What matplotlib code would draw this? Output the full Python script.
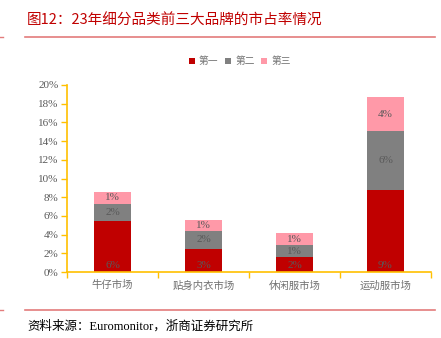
import matplotlib
matplotlib.use("Agg")
import matplotlib.pyplot as plt
import numpy as np

plt.rcParams['font.family'] = ['Liberation Serif', 'Noto Sans CJK SC']

# data
categories = ["牛仔市场", "贴身内衣市场", "休闲服市场", "运动服市场"]
first = [5.5, 2.5, 1.6, 8.8]
second = [1.8, 1.85, 1.25, 6.25]
third = [1.3, 1.25, 1.35, 3.65]
first_labels = ["6%", "3%", "2%", "9%"]
second_labels = ["2%", "2%", "1%", "6%"]
third_labels = ["1%", "1%", "1%", "4%"]
series_names = ["第一", "第二", "第三"]
yticks = [0, 2, 4, 6, 8, 10, 12, 14, 16, 18, 20]

colors = ["#C00000", "#808080", "#FF99A8"]
axis_col = "#FFC000"
text_col = "#595959"

W, H = 441, 338
fig = plt.figure(figsize=(W / 100, H / 100), dpi=100)
ax = fig.add_axes([67 / W, 1 - 272 / H, 364 / W, 187 / H])

x = np.arange(len(categories))
b1 = np.array(first)
b2 = np.array(second)
b3 = np.array(third)
ax.bar(x, b1, width=0.4, color=colors[0], label=series_names[0], zorder=2)
ax.bar(x, b2, width=0.4, bottom=b1, color=colors[1], label=series_names[1], zorder=2)
ax.bar(x, b3, width=0.4, bottom=b1 + b2, color=colors[2], label=series_names[2], zorder=2)

# segment labels
lab_font = dict(fontsize=8, color=text_col, ha="center", va="center", zorder=3)
for i in range(len(categories)):
    ax.text(x[i], 0.7, first_labels[i], **lab_font)
    ax.text(x[i], b1[i] + b2[i] / 2, second_labels[i], **lab_font)
    ax.text(x[i], b1[i] + b2[i] + b3[i] / 2, third_labels[i], **lab_font)

ax.set_xlim(-0.5, len(categories) - 0.5)
ax.set_ylim(0, 20)
ax.set_yticks(yticks)
ax.set_yticklabels([f"{v}%" for v in yticks], fontsize=8, color=text_col)
ax.set_xticks(x)
ax.set_xticklabels(categories, fontsize=7.5, color="#707070",
                   family=['Noto Sans CJK SC'])
ax.set_xticks(np.arange(-0.5, len(categories)), minor=True)
ax.tick_params(axis='x', which='major', length=0, pad=6)
ax.tick_params(axis='x', which='minor', length=4, color=axis_col, width=1)
ax.tick_params(axis='y', length=4, color=axis_col, width=1, pad=2)
for s in ['top', 'right']:
    ax.spines[s].set_visible(False)
for s in ['left', 'bottom']:
    ax.spines[s].set_color(axis_col)
    ax.spines[s].set_linewidth(1.2)

leg = ax.legend(loc='lower center', ncol=3, frameon=False,
                handlelength=0.6, handleheight=0.6, handletextpad=0.4,
                columnspacing=0.7, borderaxespad=0,
                prop={'family': 'Noto Sans CJK SC', 'size': 7})
leg.set_bbox_to_anchor((240 / W, 1 - 70 / H), transform=fig.transFigure)
for t in leg.get_texts():
    t.set_color("#707070")

# title, rules and source
fig.text(27 / W, 1 - 21 / H, "图12：23年细分品类前三大品牌的市占率情况",
         fontsize=10.5, color="#C00000", va="center", ha="left",
         family=['Noto Sans CJK SC'])
line_col = "#E37C7C"
for yy in (37, 310):
    fig.add_artist(plt.Line2D([25 / W, 435 / W], [1 - yy / H, 1 - yy / H],
                              color=line_col, lw=1.2, transform=fig.transFigure))
    fig.add_artist(plt.Line2D([0, 3 / W], [1 - yy / H, 1 - yy / H],
                              color=line_col, lw=1.0, transform=fig.transFigure))
fig.text(27 / W, 1 - 326 / H, "资料来源：Euromonitor，浙商证券研究所",
         fontsize=9, color="black", va="center", ha="left",
         family=['Liberation Serif', 'Noto Sans CJK SC'])

fig.savefig("out.png", dpi=100)
